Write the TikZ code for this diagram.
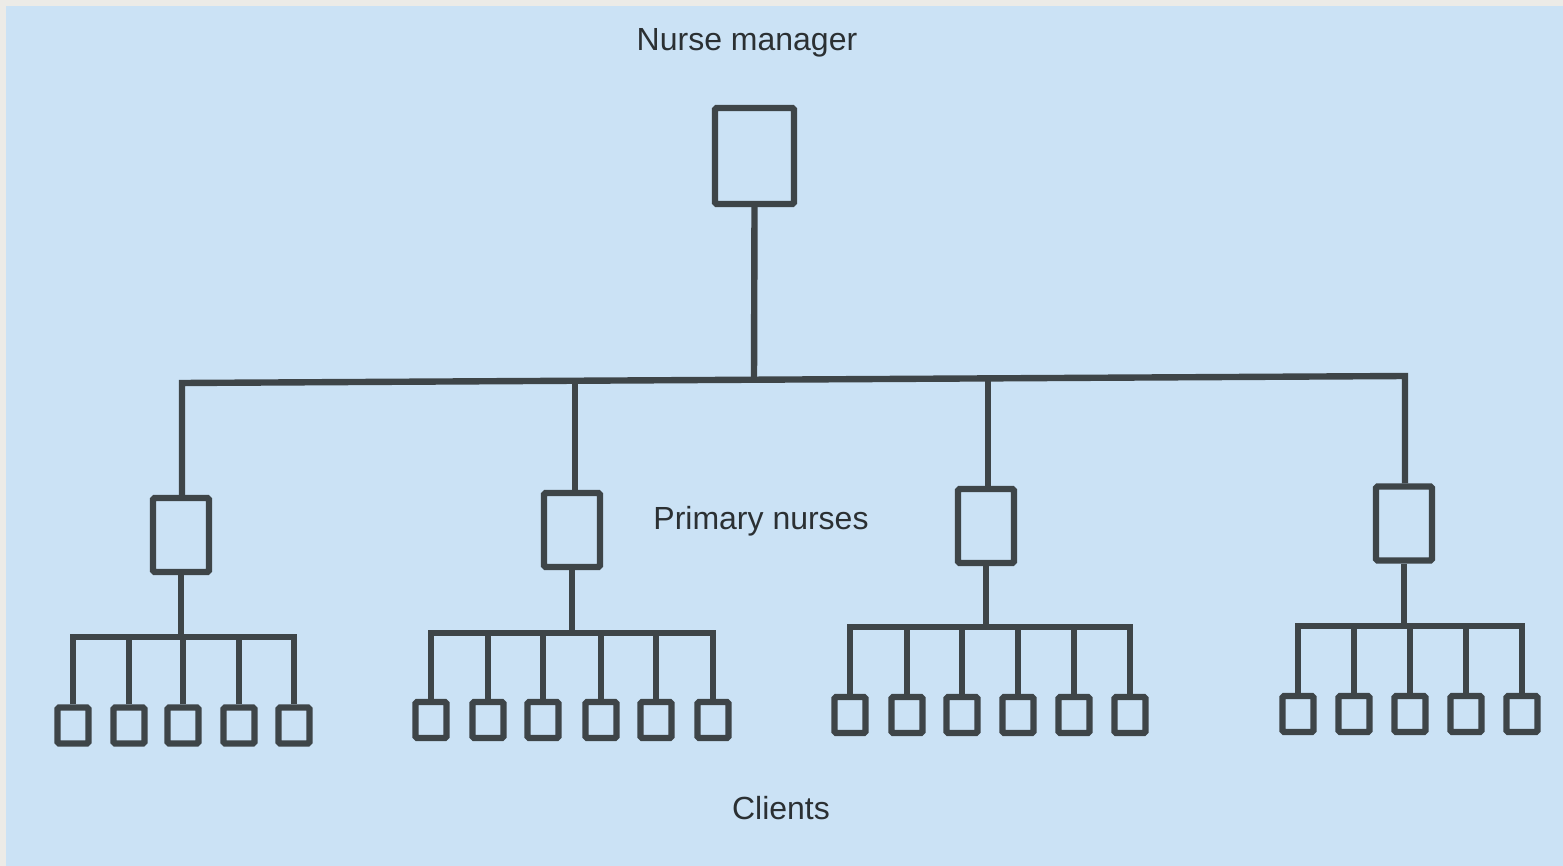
\documentclass[tikz,border=0pt]{standalone}
\usepackage{fontspec}
\setmainfont{Liberation Sans}
\begin{document}
\begin{tikzpicture}[x=0.5pt,y=-0.5pt,
  ln/.style={draw=linegrey,line width=3.2pt},
  bossbox/.style={draw=linegrey,line width=3.2pt,minimum width=39.5pt,minimum height=48pt,inner sep=0pt,rounded corners=0.8pt},
  primbox/.style={draw=linegrey,line width=3.2pt,minimum width=28pt,minimum height=37pt,inner sep=0pt,rounded corners=0.8pt},
  clientbox/.style={draw=linegrey,line width=3.1pt,minimum width=15.5pt,minimum height=18pt,inner sep=0pt,rounded corners=0.8pt},
  lbl/.style={font=\fontsize{16}{19}\selectfont,text=textgrey,inner sep=0pt}]
\definecolor{linegrey}{HTML}{3E4548}
\definecolor{textgrey}{HTML}{2B3033}
\definecolor{bgblue}{HTML}{CBE2F5}
\definecolor{edgegrey}{HTML}{ECEBE7}
\useasboundingbox (0,0) rectangle (1563,866);
\fill[edgegrey] (0,0) rectangle (1563,866);
\fill[bgblue] (6,6) rectangle (1563,866);

% labels
\node[lbl] (tNM) at (747,43) {Nurse manager};
\node[lbl] (tPN) at (761,521) {Primary nurses};
\node[lbl] (tCL) at (781,808) {Clients};

% top box
\node[bossbox] (top) at (754.5,156) {};
\coordinate (mT) at (754,379.5);

% primary nurses
\node[primbox] (p1) at (181,535) {};
\node[primbox] (p2) at (572,530) {};
\node[primbox] (p3) at (986,526) {};
\node[primbox] (p4) at (1404,523.5) {};
\coordinate (q1) at (182,383);
\coordinate (q2) at (575,381);
\coordinate (q3) at (988,378);
\coordinate (q4) at (1405,376);

\draw[ln] (top.south) -- (mT);
\draw[ln] (q1 |- p1.north) -- (q1) -- (q4) -- (q4 |- p4.north);
\draw[ln] (q2) -- (q2 |- p2.north);
\draw[ln] (q3) -- (q3 |- p3.north);

% sub-bars
\coordinate (b1) at (181,637);
\coordinate (b2) at (572,633);
\coordinate (b3) at (986,627);
\coordinate (b4) at (1404,626);

% clients group 1
\foreach \x [count=\i] in {73,129,183,239,294}{
  \node[clientbox] (c1-\i) at (\x,725.5) {};
}
% group 2
\foreach \x [count=\i] in {431,488,543,601,656,713}{
  \node[clientbox] (c2-\i) at (\x,720) {};
}
% group 3
\foreach \x [count=\i] in {850,907,962,1018,1074,1130}{
  \node[clientbox] (c3-\i) at (\x,715) {};
}
% group 4
\foreach \x [count=\i] in {1298,1354,1410,1466,1522}{
  \node[clientbox] (c4-\i) at (\x,714) {};
}

% connectors group 1
\draw[ln] (p1.south) -- (p1.south |- b1);
\draw[ln] (c1-1.north) -- (c1-1.north |- b1) -- (c1-5.north |- b1) -- (c1-5.north);
\foreach \i in {2,3,4}{ \draw[ln] (c1-\i.north) -- (c1-\i.north |- b1); }
% group 2
\draw[ln] (p2.south) -- (p2.south |- b2);
\draw[ln] (c2-1.north) -- (c2-1.north |- b2) -- (c2-6.north |- b2) -- (c2-6.north);
\foreach \i in {2,3,4,5}{ \draw[ln] (c2-\i.north) -- (c2-\i.north |- b2); }
% group 3
\draw[ln] (p3.south) -- (p3.south |- b3);
\draw[ln] (c3-1.north) -- (c3-1.north |- b3) -- (c3-6.north |- b3) -- (c3-6.north);
\foreach \i in {2,3,4,5}{ \draw[ln] (c3-\i.north) -- (c3-\i.north |- b3); }
% group 4
\draw[ln] (p4.south) -- (p4.south |- b4);
\draw[ln] (c4-1.north) -- (c4-1.north |- b4) -- (c4-5.north |- b4) -- (c4-5.north);
\foreach \i in {2,3,4}{ \draw[ln] (c4-\i.north) -- (c4-\i.north |- b4); }
\end{tikzpicture}
\end{document}
